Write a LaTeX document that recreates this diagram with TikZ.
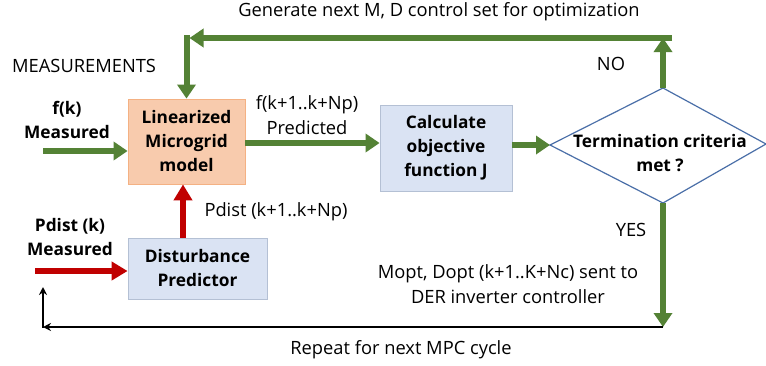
\documentclass[tikz,border=0pt]{standalone}
\usepackage{fontspec}
\setmainfont{Open Sans}
\usetikzlibrary{arrows.meta}
\definecolor{gr}{HTML}{548235}
\definecolor{rd}{HTML}{C00000}
\definecolor{org}{HTML}{F8CBAD}
\definecolor{orgb}{HTML}{F4B183}
\definecolor{bl}{HTML}{DAE3F3}
\definecolor{blb}{HTML}{B4C0D4}
\definecolor{dmb}{HTML}{4A6FA8}
\newcommand{\myfs}{\fontsize{18.3}{24.5}\selectfont}
\newcommand{\mybfs}{\fontsize{17.3}{24}\selectfont\bfseries}
\tikzset{
  txt/.style={inner sep=0pt, align=center},
  btxt/.style={inner sep=0pt, align=center, font=\mybfs},
  obox/.style={draw=orgb, fill=org, line width=0.8pt, inner sep=0pt, align=center, font=\mybfs},
  bbox/.style={draw=blb, fill=bl, line width=0.8pt, inner sep=0pt, align=center, font=\mybfs},
  garrow/.style={draw=gr, line width=6pt, -{Triangle[width=18pt,length=14pt]}},
  rarrow/.style={draw=rd, line width=6.5pt, -{Triangle[width=18pt,length=16pt]}},
  karrow/.style={draw=black, line width=1.6pt, -{Stealth[width=8pt,length=8pt]}},
}
\begin{document}
\begin{tikzpicture}[x=1pt,y=-1pt,font=\myfs]
\useasboundingbox (0,0) rectangle (766,365);
\fill[white] (0,0) rectangle (766,365);

% boxes
\node[obox, minimum width=117pt, minimum height=85pt] (lin) at (186.5,141.5) {Linearized\\Microgrid\\model};
\node[bbox, minimum width=132pt, minimum height=86pt] (calc) at (446,148) {Calculate\\objective\\function J};
\node[bbox, minimum width=139pt, minimum height=61pt] (dist) at (197.5,268.5) {Disturbance\\Predictor};

% diamond
\coordinate (dT) at (663,88);
\coordinate (dR) at (766,144);
\coordinate (dB) at (663,203);
\coordinate (dL) at (550,145);
\draw[dmb, line width=1.2pt, fill=white] (dT) -- (dR) -- (dB) -- (dL) -- cycle;
\node[btxt] (dtx) at (660,153) {Termination criteria\\met ?};

% helper coordinates
\coordinate (tr) at (663,38);
\coordinate (fin) at (43,151);
\coordinate (pin) at (35,271);
\coordinate (rx) at (183,0);
\coordinate (lc) at (0,143);
\coordinate (br) at (663,327);
\coordinate (bl) at (43,327);
\coordinate (bu) at (43,287);

% green loop
\draw[garrow] (dT) -- (tr);
\draw[garrow] ([xshift=9pt]tr) -- ([xshift=3pt]lin.north |- tr);
\draw[garrow] ([yshift=3pt]lin.north |- tr) -- (lin.north);

% main flow
\draw[garrow] (fin) -- (lin.west |- fin);
\draw[garrow] (lin.east |- lc) -- (calc.west |- lc);
\draw[garrow] (calc.east |- dL) -- (dL);
\draw[garrow] (dB) -- (br);

% red arrows
\draw[rarrow] (pin) -- (dist.west |- pin);
\draw[rarrow] (dist.north -| rx) -- (lin.south -| rx);

% black return loop
\draw[karrow] (br) -- (bl);
\draw[karrow] ([yshift=-0.8pt]bl) -- (bu);

% labels
\node[txt] (gen) at (439,12) {Generate next M, D control set for optimization};
\node[txt, anchor=west] (meas) at (12,66) {MEASUREMENTS};
\node[btxt] (fk) at (67,120) {f(k)\\Measured};
\node[txt] (fkp) at (307,115) {f(k+1..k+Np)\\Predicted};
\node[txt] (no) at (611,64) {NO};
\node[btxt] (pdk) at (70,237) {Pdist (k)\\Measured};
\node[txt] (pdp) at (276,212) {Pdist (k+1..k+Np)};
\node[txt] (yes) at (631,230) {YES};
\node[txt] (mopt) at (508,284) {Mopt, Dopt (k+1..K+Nc) sent to\\DER inverter controller};
\node[txt] (rep) at (401,350) {Repeat for next MPC cycle};
\end{tikzpicture}
\end{document}
